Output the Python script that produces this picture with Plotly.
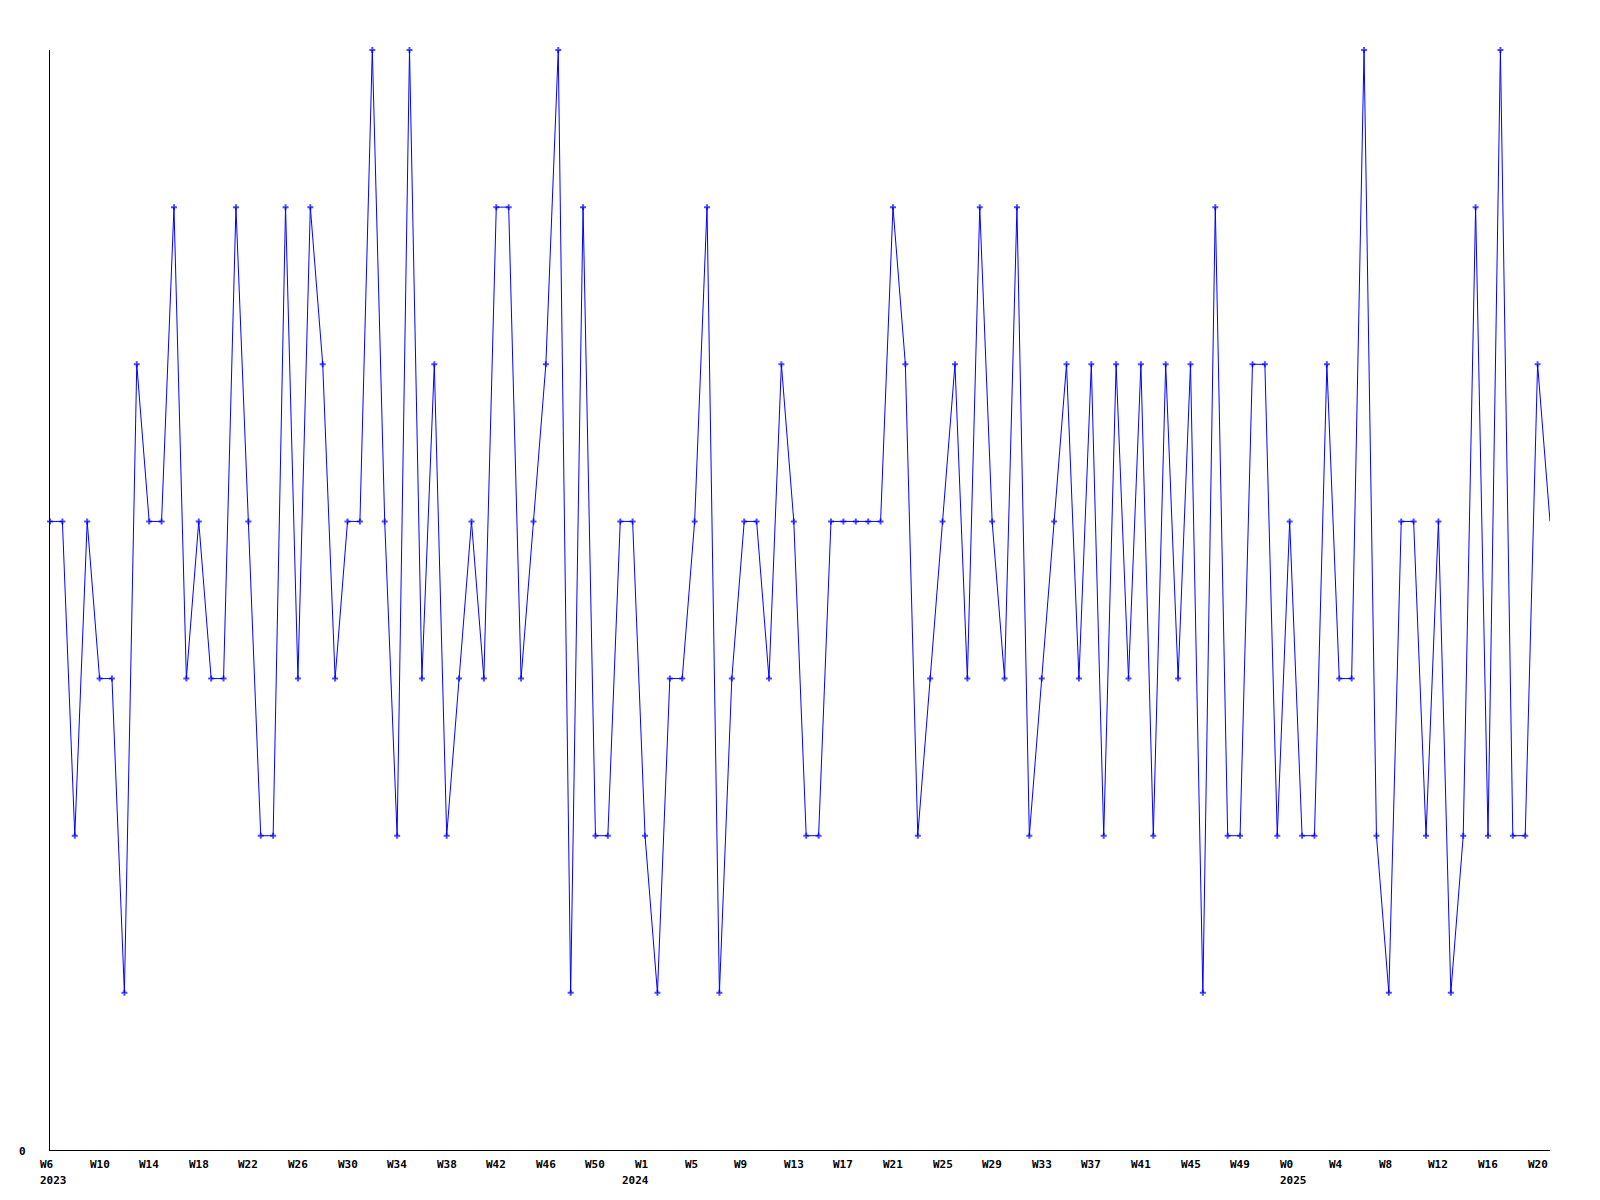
import plotly.graph_objects as go

# Weekly values (one per week, W6 2023 .. W21 2025)
values = [
    4, 4, 2, 4, 3, 3, 1, 5, 4, 4,
    6, 3, 4, 3, 3, 6, 4, 2, 2, 6,
    3, 6, 5, 3, 4, 4, 7, 4, 2, 7,
    3, 5, 2, 3, 4, 3, 6, 6, 3, 4,
    5, 7, 1, 6, 2, 2, 4, 4, 2, 1,
    3, 3, 4, 6, 1, 3, 4, 4, 3, 5,
    4, 2, 2, 4, 4, 4, 4, 4, 6, 5,
    2, 3, 4, 5, 3, 6, 4, 3, 6, 2,
    3, 4, 5, 3, 5, 2, 5, 3, 5, 2,
    5, 3, 5, 1, 6, 2, 2, 5, 5, 2,
    4, 2, 2, 5, 3, 3, 7, 2, 1, 4,
    4, 2, 4, 1, 2, 6, 2, 7, 2, 2,
    5, 4,
]

# Tick labels, one every 4 weeks
week_labels = [
    "W6", "W10", "W14", "W18", "W22", "W26", "W30", "W34", "W38", "W42", "W46", "W50",
    "W1", "W5", "W9", "W13", "W17", "W21", "W25", "W29", "W33", "W37", "W41", "W45", "W49",
    "W0", "W4", "W8", "W12", "W16", "W20",
]
year_labels = {0: "2023", 12: "2024", 25: "2025"}
year_shift = {0: -11, 12: -24, 25: -11}
tick_step = 4

x = list(range(len(values)))
marker_sizes = [5] * (len(values) - 1) + [0]

fig = go.Figure()
fig.add_trace(go.Scatter(
    x=x, y=values, mode="lines+markers",
    line=dict(color="#0000ff", width=1),
    marker=dict(symbol="cross", size=marker_sizes, color="#0000ff", line=dict(width=0)),
    cliponaxis=False, showlegend=False, hoverinfo="skip",
))

font = dict(family="DejaVu Sans Mono", size=11, color="#000000", weight="bold")
annotations = []
for i, lab in enumerate(week_labels):
    xv = i * tick_step
    annotations.append(dict(x=xv, xref="x", y=0, yref="paper", text=lab, showarrow=False,
                            xanchor="left", yanchor="middle", xshift=-11, yshift=-14,
                            font=font, borderpad=0))
    if i in year_labels:
        annotations.append(dict(x=xv, xref="x", y=0, yref="paper", text=year_labels[i],
                                showarrow=False, xanchor="left", yanchor="middle",
                                xshift=year_shift[i], yshift=-30, font=font, borderpad=0))
annotations.append(dict(x=0, xref="paper", y=0, yref="y", text="0", showarrow=False,
                        xanchor="center", yanchor="middle", xshift=-28, yshift=-1,
                        font=font, borderpad=0))

fig.update_layout(
    width=1600, height=1200,
    margin=dict(l=50, r=50, t=50, b=50),
    paper_bgcolor="white", plot_bgcolor="white",
    annotations=annotations,
    xaxis=dict(range=[0, len(values) - 1], showgrid=False, zeroline=False,
               showline=True, linecolor="black", linewidth=1, showticklabels=False, ticks=""),
    yaxis=dict(range=[0, 7], showgrid=False, zeroline=False,
               showline=True, linecolor="black", linewidth=1, showticklabels=False, ticks=""),
)

fig.write_html("out.html", post_script="document.body.style.margin='0';",
               config={"displayModeBar": False})
